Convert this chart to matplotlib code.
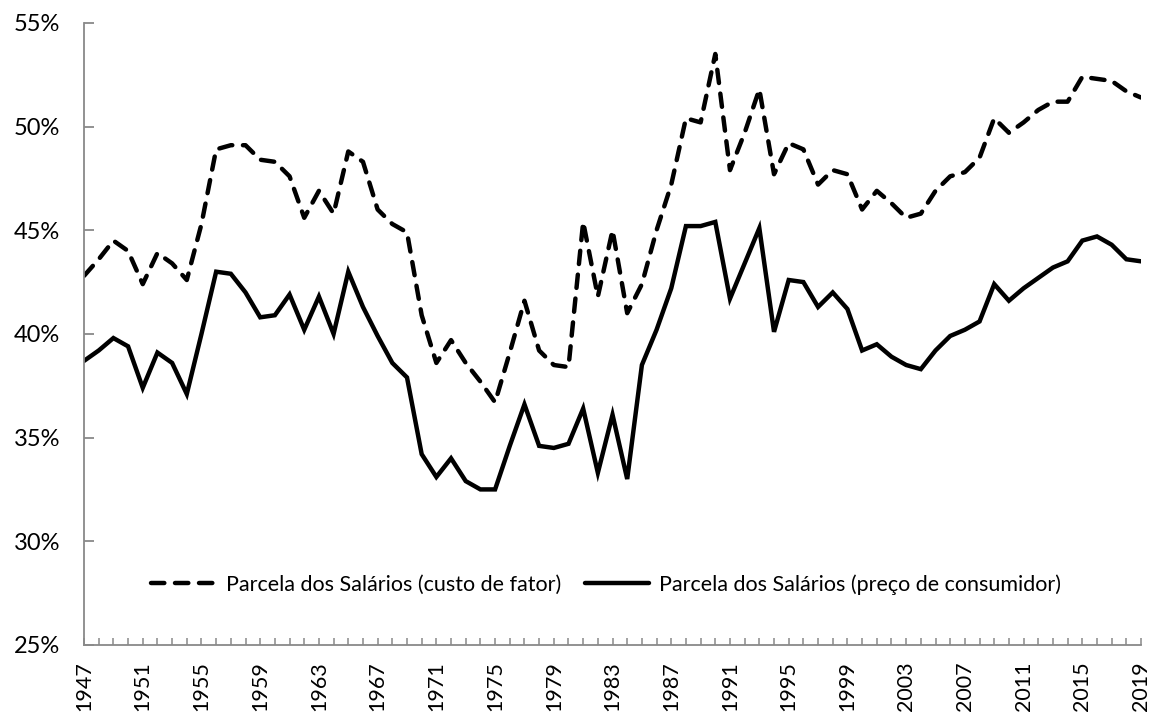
import matplotlib.pyplot as plt
from matplotlib.ticker import FuncFormatter, MultipleLocator

# Data (percent)
years = list(range(1947, 2020))
custo_fator = [42.8, 43.6, 44.5, 44.0, 42.4, 43.9, 43.4, 42.6, 45.3, 48.9,
               49.1, 49.1, 48.4, 48.3, 47.6, 45.6, 46.9, 45.8, 48.8, 48.3,
               46.0, 45.3, 44.9, 40.9, 38.6, 39.7, 38.6, 37.7, 36.7, 39.1,
               41.6, 39.2, 38.5, 38.4, 45.4, 41.8, 45.0, 41.0, 42.4, 45.0,
               47.2, 50.4, 50.2, 53.5, 47.9, 49.7, 51.8, 47.7, 49.2, 48.9,
               47.2, 47.9, 47.7, 46.0, 46.9, 46.3, 45.6, 45.8, 46.9, 47.6,
               47.8, 48.5, 50.4, 49.7, 50.2, 50.8, 51.2, 51.2, 52.4, 52.3,
               52.2, 51.7, 51.4]
preco_consumidor = [38.7, 39.2, 39.8, 39.4, 37.4, 39.1, 38.6, 37.1, 40.0, 43.0,
                    42.9, 42.0, 40.8, 40.9, 41.9, 40.2, 41.8, 40.0, 43.0, 41.3,
                    39.9, 38.6, 37.9, 34.2, 33.1, 34.0, 32.9, 32.5, 32.5, 34.6,
                    36.6, 34.6, 34.5, 34.7, 36.4, 33.3, 36.1, 33.0, 38.5, 40.2,
                    42.2, 45.2, 45.2, 45.4, 41.7, 43.4, 45.1, 40.1, 42.6, 42.5,
                    41.3, 42.0, 41.2, 39.2, 39.5, 38.9, 38.5, 38.3, 39.2, 39.9,
                    40.2, 40.6, 42.4, 41.6, 42.2, 42.7, 43.2, 43.5, 44.5, 44.7,
                    44.3, 43.6, 43.5]
labels = ['Parcela dos Salários (custo de fator)',
          'Parcela dos Salários (preço de consumidor)']

plt.rcParams['font.family'] = ['Lato', 'DejaVu Sans']
axis_gray = '#898989'

fig = plt.figure(figsize=(11.59, 7.15), dpi=100)
ax = fig.add_axes([0.0725, 0.098, 0.912, 0.870])

ax.plot(years, custo_fator, color='black', lw=3.2, linestyle=(0, (3.0, 2.4)),
        dash_capstyle='round', solid_joinstyle='miter', label=labels[0])
ax.plot(years, preco_consumidor, color='black', lw=3.2,
        solid_capstyle='round', solid_joinstyle='miter', label=labels[1])

ax.set_xlim(1947, 2019)
ax.set_ylim(25, 55)

# Axes styling
for side in ['top', 'right']:
    ax.spines[side].set_visible(False)
for side in ['left', 'bottom']:
    ax.spines[side].set_color(axis_gray)
    ax.spines[side].set_linewidth(1.3)

ax.yaxis.set_major_locator(MultipleLocator(5))
ax.yaxis.set_major_formatter(FuncFormatter(lambda v, p: '%d%%' % v))
ax.tick_params(axis='y', direction='in', length=7, width=1.3, color=axis_gray,
               labelsize=17, pad=17)

ax.set_xticks(years, minor=True)
ax.set_xticks(years[::4])
ax.set_xticklabels([str(y) for y in years[::4]], rotation=90)
ax.tick_params(axis='x', which='both', direction='in', length=5, width=1.1,
               color=axis_gray, labelsize=15.5, pad=12)

ax.legend(loc='center', bbox_to_anchor=(0.494, 0.097), ncol=2, frameon=False,
          fontsize=15.5, handlelength=3.0, handletextpad=0.45, columnspacing=1.1)

fig.savefig('out.png', dpi=100)
